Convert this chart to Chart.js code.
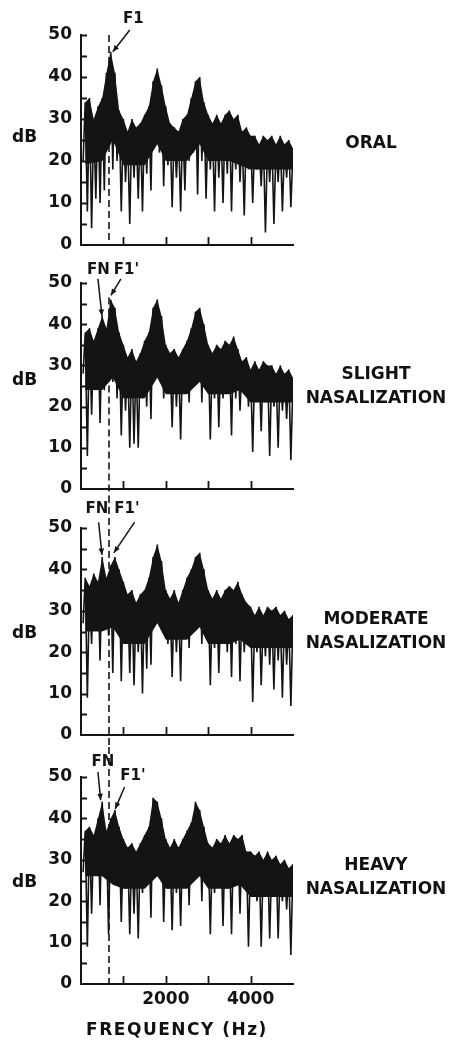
<!DOCTYPE html>
<html>
<head>
<meta charset="utf-8">
<script src="https://cdn.jsdelivr.net/npm/chart.js@4.4.0/dist/chart.umd.min.js"></script>
<style>
  body { margin: 0; background: #fff; width: 449px; height: 1042px; position: relative; overflow: hidden;
         font-family: "DejaVu Sans", sans-serif; font-weight: bold; color: #111; }
  canvas { position: absolute; left: 0; }
  .txt { position: absolute; font-size: 17px; line-height: 24px; white-space: nowrap; }
  .db { left: 12px; line-height: 17px; }
  .name { left: 296px; width: 160px; text-align: center; }
  .title { left: 77px; width: 200px; text-align: center; line-height: 17px; letter-spacing: 1.5px; }
</style>
</head>
<body>
<canvas id="p1"></canvas>
<canvas id="p2"></canvas>
<canvas id="p3"></canvas>
<canvas id="p4"></canvas>

<div class="txt db" style="top:128px">dB</div>
<div class="txt db" style="top:371px">dB</div>
<div class="txt db" style="top:624px">dB</div>
<div class="txt db" style="top:873px">dB</div>

<div class="txt name" style="top:130px;left:291px">ORAL</div>
<div class="txt name" style="top:361px">SLIGHT<br>NASALIZATION</div>
<div class="txt name" style="top:606px">MODERATE<br>NASALIZATION</div>
<div class="txt name" style="top:852px">HEAVY<br>NASALIZATION</div>

<div class="txt title" style="top:1021px">FREQUENCY (Hz)</div>

<script>
// harmonic peaks and the valleys between them (Hz)
const peakFreq = [100, 200, 300, 400, 500, 600, 700, 800, 900, 1000,
  1100, 1200, 1300, 1400, 1500, 1600, 1700, 1800, 1900, 2000,
  2100, 2200, 2300, 2400, 2500, 2600, 2700, 2800, 2900, 3000,
  3100, 3200, 3300, 3400, 3500, 3600, 3700, 3800, 3900, 4000,
  4100, 4200, 4300, 4400, 4500, 4600, 4700, 4800, 4900, 5000];
const troughFreq = [50, 150, 250, 350, 450, 550, 650, 750, 850, 950,
  1050, 1150, 1250, 1350, 1450, 1550, 1650, 1750, 1850, 1950,
  2050, 2150, 2250, 2350, 2450, 2550, 2650, 2750, 2850, 2950,
  3050, 3150, 3250, 3350, 3450, 3550, 3650, 3750, 3850, 3950,
  4050, 4150, 4250, 4350, 4450, 4550, 4650, 4750, 4850, 4950];
// lower edge of the solid part of each trace
const floorFreq = [0, 500, 750, 1000, 1500, 1800, 2000, 2500, 2800, 3000, 3500, 3750, 4000, 4500, 5000];

// dB values
const oralPeaks = [34, 35, 30, 33, 35, 41, 46, 41, 32, 30, 27, 30, 28, 29, 31, 33, 39, 42, 38, 33,
  29, 28, 27, 30, 31, 35, 39, 40, 34, 31, 29, 31, 29, 31, 32, 30, 31, 27, 28, 26,
  26, 24, 26, 25, 26, 24, 26, 24, 25, 23];
const oralTroughs = [20, 8, 4, 11, 10, 13, 25, 18, 20, 8, 15, 5, 16, 11, 8, 17, 13, 24, 22, 14,
  19, 9, 16, 8, 13, 20, 22, 12, 20, 11, 18, 8, 16, 10, 17, 8, 18, 15, 7, 18,
  10, 18, 14, 3, 15, 5, 15, 8, 16, 9];
const oralFloor = [19, 20, 25, 19, 19, 24, 20, 20, 24, 20, 20, 19, 18, 18, 18];

const slightPeaks = [38, 39, 36, 39, 42, 39, 46, 44, 38, 35, 32, 34, 31, 33, 36, 38, 44, 46, 42, 35,
  33, 34, 32, 34, 36, 39, 43, 44, 40, 35, 33, 35, 34, 36, 35, 37, 34, 31, 32, 29,
  31, 29, 31, 30, 30, 28, 30, 28, 29, 27];
const slightTroughs = [28, 8, 18, 24, 16, 24, 30, 26, 22, 13, 19, 10, 11, 10, 22, 20, 17, 28, 27, 22,
  24, 15, 20, 12, 24, 21, 28, 30, 21, 24, 12, 22, 15, 22, 24, 13, 22, 19, 23, 20,
  9, 22, 14, 21, 8, 20, 10, 19, 17, 7];
const slightFloor = [24, 24, 27, 22, 22, 27, 23, 23, 26, 23, 23, 24, 21, 21, 21];

const moderatePeaks = [38, 36, 39, 37, 43, 38, 41, 43, 40, 37, 34, 35, 32, 34, 35, 38, 43, 46, 42, 35,
  33, 35, 32, 35, 38, 40, 43, 44, 40, 35, 33, 35, 33, 35, 36, 35, 37, 34, 32, 31,
  29, 31, 29, 31, 30, 31, 29, 30, 28, 29];
const moderateTroughs = [27, 9, 22, 26, 18, 27, 24, 15, 26, 13, 22, 15, 12, 20, 10, 16, 17, 28, 30, 26,
  22, 14, 20, 13, 24, 21, 28, 30, 22, 24, 12, 21, 15, 23, 20, 14, 22, 13, 20, 22,
  8, 20, 12, 19, 17, 11, 18, 9, 17, 7];
const moderateFloor = [25, 25, 26, 22, 22, 27, 23, 23, 26, 22, 22, 23, 21, 21, 21];

const heavyPeaks = [37, 38, 36, 40, 44, 37, 40, 42, 38, 35, 33, 34, 32, 34, 36, 38, 45, 44, 40, 35,
  33, 35, 33, 35, 37, 39, 44, 42, 38, 34, 33, 35, 34, 36, 34, 36, 35, 36, 32, 32,
  31, 32, 30, 32, 30, 31, 29, 30, 28, 29];
const heavyTroughs = [27, 9, 17, 27, 19, 28, 12, 27, 24, 15, 23, 12, 17, 11, 22, 24, 16, 30, 28, 15,
  23, 13, 22, 14, 25, 19, 28, 31, 20, 25, 12, 22, 24, 14, 23, 12, 24, 17, 23, 9,
  22, 20, 9, 21, 11, 22, 11, 20, 18, 7];
const heavyFloor = [26, 26, 24, 23, 23, 26, 23, 23, 26, 23, 23, 24, 21, 21, 21];

// axis ticks
const yLabelTicks = [0, 10, 20, 30, 40, 50];
const yMarkTicks = [5, 10, 15, 20, 25, 30, 35, 40, 45, 50];
const xMarkTicks = [1000, 2000, 3000, 4000];
const xLabelTicks = [2000, 4000];
const dashHz = 660;

const ink = '#141414';
const tickFont = { family: '"DejaVu Sans"', size: 17, weight: 'bold' };

function buildSeries(peaks, troughs) {
  const pts = [];
  for (let i = 0; i < peaks.length; i++) {
    pts.push({ x: troughFreq[i], y: troughs[i] });
    pts.push({ x: peakFreq[i], y: peaks[i] });
  }
  return pts;
}

// inward tick marks, the dashed F1 line and the arrow labels
const decor = {
  id: 'decor',
  afterDatasetsDraw(chart, args, opts) {
    const { ctx, chartArea: a, scales: { x, y } } = chart;
    ctx.save();
    ctx.strokeStyle = ink;
    ctx.lineWidth = 1.6;
    ctx.setLineDash([7, 4]);
    const dx = x.getPixelForValue(dashHz);
    ctx.beginPath();
    ctx.moveTo(dx, opts.dashTop == null ? 0 : y.getPixelForValue(opts.dashTop));
    ctx.lineTo(dx, opts.dashToBottom ? a.bottom : chart.height);
    ctx.stroke();
    ctx.restore();
  },
  afterDraw(chart, args, opts) {
    const { ctx, chartArea: a, scales: { x, y } } = chart;
    ctx.save();
    ctx.strokeStyle = ink;
    ctx.fillStyle = ink;
    ctx.lineWidth = 1.8;
    ctx.beginPath();
    yMarkTicks.forEach(v => {
      const py = Math.round(y.getPixelForValue(v)) + 0.5;
      ctx.moveTo(a.left, py);
      ctx.lineTo(a.left + 6, py);
    });
    xMarkTicks.forEach(v => {
      const px = Math.round(x.getPixelForValue(v)) + 0.5;
      ctx.moveTo(px, a.bottom);
      ctx.lineTo(px, a.bottom - 8);
    });
    ctx.stroke();

    ctx.font = 'bold 15px "DejaVu Sans"';
    ctx.textAlign = 'center';
    ctx.textBaseline = 'middle';
    ctx.lineWidth = 1.5;
    opts.notes.forEach(n => {
      ctx.fillText(n.label, x.getPixelForValue(n.at[0]), y.getPixelForValue(n.at[1]));
      const x0 = x.getPixelForValue(n.from[0]), y0 = y.getPixelForValue(n.from[1]);
      const x1 = x.getPixelForValue(n.to[0]), y1 = y.getPixelForValue(n.to[1]);
      ctx.beginPath();
      ctx.moveTo(x0, y0);
      ctx.lineTo(x1, y1);
      ctx.stroke();
      const ang = Math.atan2(y1 - y0, x1 - x0);
      ctx.beginPath();
      ctx.moveTo(x1, y1);
      ctx.lineTo(x1 - 7 * Math.cos(ang - 0.4), y1 - 7 * Math.sin(ang - 0.4));
      ctx.lineTo(x1 - 7 * Math.cos(ang + 0.4), y1 - 7 * Math.sin(ang + 0.4));
      ctx.closePath();
      ctx.fill();
    });
    ctx.restore();
  }
};

const panels = [
  { id: 'p1', top: 0, height: 255, padTop: 35, axisH: 10,
    peaks: oralPeaks, troughs: oralTroughs, floor: oralFloor,
    dashTop: 50, dashToBottom: true, showX: false,
    notes: [{ label: 'F1', at: [1235, 53.8], from: [1150, 51.2], to: [750, 46] }] },
  { id: 'p2', top: 255, height: 241, padTop: 28, axisH: 7,
    peaks: slightPeaks, troughs: slightTroughs, floor: slightFloor,
    dashTop: 46.5, dashToBottom: false, showX: false,
    notes: [{ label: 'FN', at: [412, 53.2], from: [400, 51], to: [494, 42] },
            { label: "F1'", at: [1070, 53.2], from: [941, 51], to: [706, 47] }] },
  { id: 'p3', top: 496, height: 251, padTop: 32, axisH: 12,
    peaks: moderatePeaks, troughs: moderateTroughs, floor: moderateFloor,
    dashTop: null, dashToBottom: false, showX: false,
    notes: [{ label: 'FN', at: [376, 54.6], from: [416, 51.4], to: [494, 43.5] },
            { label: "F1'", at: [1082, 54.6], from: [1264, 51.4], to: [776, 44] }] },
  { id: 'p4', top: 747, height: 295, padTop: 30, axisH: 58,
    peaks: heavyPeaks, troughs: heavyTroughs, floor: heavyFloor,
    dashTop: null, dashToBottom: true, showX: true,
    notes: [{ label: 'FN', at: [518, 53.7], from: [400, 51.2], to: [464, 44.4] },
            { label: "F1'", at: [1224, 50.2], from: [1028, 47.6], to: [807, 42.3] }] }
];

panels.forEach(p => {
  const cv = document.getElementById(p.id);
  cv.width = 449;
  cv.height = p.height;
  cv.style.top = p.top + 'px';
  new Chart(cv, {
    type: 'line',
    data: {
      datasets: [
        // solid body: black under the peak envelope ...
        { data: peakFreq.map((f, i) => ({ x: f, y: p.peaks[i] })), order: 3, borderWidth: 0,
          borderColor: 'rgba(0,0,0,0)', backgroundColor: ink, pointRadius: 0, tension: 0, fill: 'origin' },
        // ... cleared again below the lower edge of the body
        { data: floorFreq.map((f, i) => ({ x: f, y: p.floor[i] })), order: 2, borderWidth: 0,
          borderColor: 'rgba(0,0,0,0)', backgroundColor: '#fff', pointRadius: 0, tension: 0, fill: 'origin' },
        // the spectrum line itself, spikes included
        { data: buildSeries(p.peaks, p.troughs), order: 1, borderColor: ink, borderWidth: 1.6,
          pointRadius: 0, tension: 0, fill: false }
      ]
    },
    options: {
      responsive: false,
      animation: false,
      layout: { padding: { top: p.padTop, right: 156, left: 0, bottom: 0 } },
      plugins: {
        legend: { display: false },
        tooltip: { enabled: false },
        decor: { notes: p.notes, dashTop: p.dashTop, dashToBottom: p.dashToBottom }
      },
      scales: {
        x: {
          type: 'linear', min: 0, max: 5000,
          grid: { display: false, drawTicks: false },
          border: { display: true, color: ink, width: 2, z: 1 },
          ticks: {
            display: p.showX, stepSize: 1000, autoSkip: false, maxRotation: 0, padding: 5,
            color: ink, font: tickFont,
            callback: v => xLabelTicks.includes(v) ? String(v) : ''
          },
          afterFit: s => { s.height = p.axisH; s.paddingLeft = 0; s.paddingRight = 0; }
        },
        y: {
          type: 'linear', min: 0, max: 50,
          grid: { display: false, drawTicks: false },
          border: { display: true, color: ink, width: 2, z: 1 },
          afterBuildTicks: s => { s.ticks = yLabelTicks.map(v => ({ value: v })); },
          ticks: { padding: 9, color: ink, font: tickFont },
          afterFit: s => { s.width = 81; s.paddingTop = 0; s.paddingBottom = 0; }
        }
      }
    },
    plugins: [decor]
  });
});
</script>
</body>
</html>
